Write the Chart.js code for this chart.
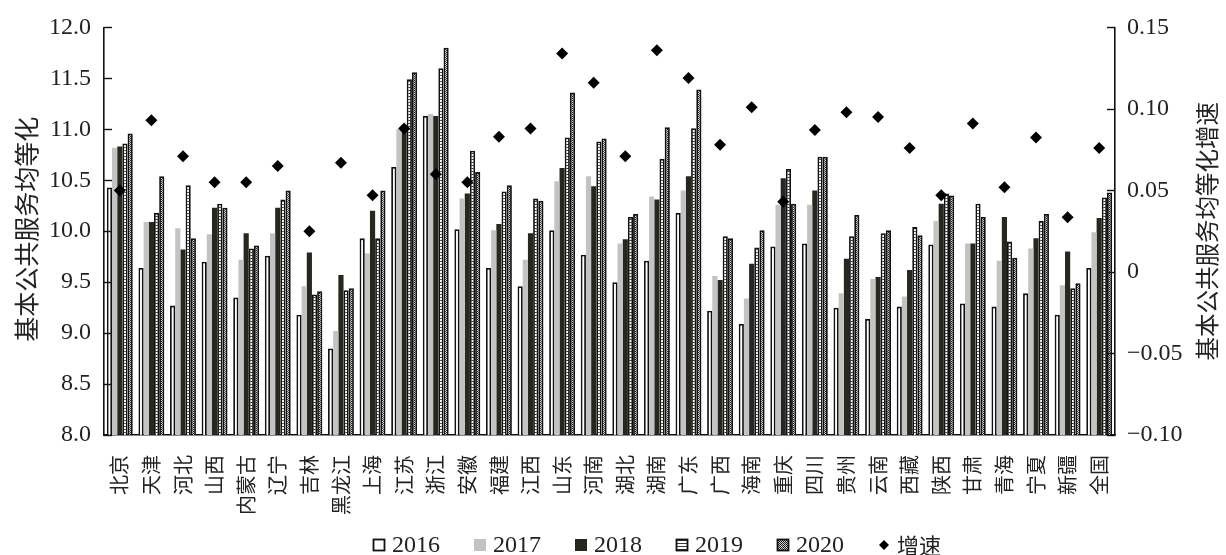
<!DOCTYPE html>
<html>
<head>
<meta charset="utf-8">
<script src="https://cdn.jsdelivr.net/npm/chart.js@4.4.1/dist/chart.umd.min.js"></script>
<style>
  html, body { margin: 0; padding: 0; background: #fff; }
  #wrap { width: 1226px; height: 555px; }
</style>
</head>
<body>
<div id="wrap"><canvas id="c"></canvas></div>
<script>
const categories = ['北京','天津','河北','山西','内蒙古','辽宁','吉林','黑龙江','上海','江苏','浙江','安徽','福建','江西','山东','河南','湖北','湖南','广东','广西','海南','重庆','四川','贵州','云南','西藏','陕西','甘肃','青海','宁夏','新疆','全国'];
const years = ['2016','2017','2018','2019','2020'];
const v2016 = [10.43,9.64,9.27,9.70,9.35,9.76,9.18,8.85,9.93,10.63,11.13,10.02,9.64,9.46,10.01,9.77,9.50,9.71,10.18,9.22,9.09,9.85,9.88,9.25,9.14,9.26,9.87,9.29,9.26,9.39,9.18,9.64];
const v2017 = [10.82,10.09,10.03,9.97,9.72,9.98,9.46,9.02,9.78,11.00,11.15,10.32,10.01,9.72,10.49,10.54,9.88,10.34,10.40,9.56,9.34,10.26,10.26,9.39,9.53,9.36,10.10,9.88,9.71,9.83,9.47,9.99];
const v2018 = [10.83,10.09,9.82,10.23,9.98,10.23,9.79,9.57,10.20,11.01,11.13,10.37,10.07,9.98,10.62,10.44,9.92,10.31,10.54,9.52,9.68,10.52,10.40,9.73,9.55,9.62,10.27,9.88,10.14,9.93,9.80,10.13];
const v2019 = [10.86,10.18,10.45,10.27,9.83,10.31,9.38,9.42,9.93,11.49,11.60,10.79,10.39,10.32,10.92,10.88,10.14,10.71,11.01,9.95,9.84,10.61,10.73,9.95,9.98,10.04,10.37,10.27,9.90,10.10,9.44,10.33];
const v2020 = [10.96,10.54,9.93,10.23,9.86,10.40,9.41,9.44,10.40,11.56,11.80,10.58,10.45,10.30,11.36,10.91,10.17,11.02,11.39,9.93,10.01,10.27,10.73,10.16,10.01,9.96,10.35,10.14,9.74,10.17,9.49,10.38];
const growth = [0.050,0.093,0.071,0.055,0.055,0.065,0.025,0.067,0.047,0.088,0.060,0.055,0.083,0.088,0.134,0.116,0.071,0.136,0.119,0.078,0.101,0.043,0.087,0.098,0.095,0.076,0.047,0.091,0.052,0.0825,0.0335,0.076];
const growthLabel = '增速';
const leftTitle = '基本公共服务均等化';
const rightTitle = '基本公共服务均等化增速';

const SERIF = "'Liberation Serif', 'Noto Sans CJK SC', serif";
const CJK = "'Noto Sans CJK SC', 'Liberation Serif', sans-serif";

function makePattern(w, h, paint) {
  const c = document.createElement('canvas');
  c.width = w; c.height = h;
  const g = c.getContext('2d');
  paint(g);
  return g.createPattern(c, 'repeat');
}
// 2019: horizontal hatching, 2020: fine checker
const hatch = makePattern(2, 3, g => {
  g.fillStyle = '#fff'; g.fillRect(0, 0, 2, 3);
  g.fillStyle = '#3a3a3a'; g.fillRect(0, 0, 2, 1);
});
const checker = makePattern(2, 2, g => {
  g.fillStyle = '#cfcfcf'; g.fillRect(0, 0, 2, 2);
  g.fillStyle = '#1e1e1e'; g.fillRect(0, 0, 1, 1); g.fillRect(1, 1, 1, 1);
});

const barStyles = [
  {bg: '#ffffff', border: '#111', bw: 1.8},
  {bg: '#c3c3c3', border: '#c3c3c3', bw: 0},
  {bg: '#27271f', border: '#27271f', bw: 0},
  {bg: hatch, border: '#111', bw: 1.8},
  {bg: checker, border: '#111', bw: 1.8}
];
const series = [v2016, v2017, v2018, v2019, v2020];

const datasets = series.map((vals, i) => ({
  type: 'bar',
  label: years[i],
  data: vals,
  yAxisID: 'y',
  base: 8,
  backgroundColor: barStyles[i].bg,
  borderColor: barStyles[i].border,
  borderWidth: barStyles[i].bw,
  borderSkipped: 'start',
  categoryPercentage: 0.82,
  barPercentage: 1.0,
  order: 1
}));
datasets.push({
  type: 'line',
  label: growthLabel,
  data: growth,
  yAxisID: 'y1',
  showLine: false,
  pointStyle: 'rectRot',
  pointRadius: 6,
  pointHoverRadius: 6,
  pointBackgroundColor: '#000',
  pointBorderWidth: 0,
  order: 0
});

// inward tick marks, axis titles and legend
const decor = {
  id: 'decor',
  afterDraw(chart) {
    const ctx = chart.ctx;
    const a = chart.chartArea;
    const y = chart.scales.y, y1 = chart.scales.y1;
    ctx.save();
    ctx.strokeStyle = '#111';
    ctx.lineWidth = 1.4;
    y.ticks.forEach(t => {
      const p = Math.round(y.getPixelForValue(t.value)) + 0.5;
      ctx.beginPath(); ctx.moveTo(a.left, p); ctx.lineTo(a.left + 8, p); ctx.stroke();
    });
    y1.ticks.forEach(t => {
      const p = Math.round(y1.getPixelForValue(t.value)) + 0.5;
      ctx.beginPath(); ctx.moveTo(a.right, p); ctx.lineTo(a.right - 8, p); ctx.stroke();
    });

    ctx.fillStyle = '#222';
    ctx.textAlign = 'center';
    ctx.textBaseline = 'middle';
    const midY = (a.top + a.bottom) / 2;
    ctx.font = '25px ' + CJK;
    ctx.save(); ctx.translate(26, midY - 2); ctx.rotate(-Math.PI / 2); ctx.fillText(leftTitle, 0, 0); ctx.restore();
    ctx.font = '23.5px ' + CJK;
    ctx.save(); ctx.translate(1207, midY); ctx.rotate(-Math.PI / 2); ctx.fillText(rightTitle, 0, 0); ctx.restore();

    // legend
    const ly = 545;
    let x = 373;
    ctx.textAlign = 'left';
    chart.data.datasets.forEach(ds => {
      const label = ds.label;
      if (ds.type === 'bar') {
        ctx.fillStyle = ds.backgroundColor;
        ctx.fillRect(x, ly - 6, 12, 12);
        if (ds.borderWidth) {
          ctx.strokeStyle = '#111'; ctx.lineWidth = 1.8;
          ctx.strokeRect(x + 0.5, ly - 5.5, 11, 11);
        }
      } else {
        ctx.fillStyle = '#000';
        ctx.beginPath();
        ctx.moveTo(x + 6, ly - 5); ctx.lineTo(x + 11, ly); ctx.lineTo(x + 6, ly + 5); ctx.lineTo(x + 1, ly);
        ctx.closePath(); ctx.fill();
      }
      ctx.fillStyle = '#222';
      ctx.font = (ds.type === 'bar' ? '24px ' + SERIF : '22px ' + CJK);
      ctx.fillText(label, x + 19, ly + 1);
      x += 19 + ctx.measureText(label).width + 34;
    });
    ctx.restore();
  }
};

new Chart(document.getElementById('c'), {
  data: { labels: categories, datasets },
  options: {
    responsive: true,
    maintainAspectRatio: false,
    animation: false,
    layout: { padding: { top: 25, bottom: 0, left: 0, right: 0 } },
    plugins: { legend: { display: false }, tooltip: { enabled: false } },
    scales: {
      x: {
        offset: true,
        grid: { display: false },
        border: { display: true, color: '#111', width: 1.6 },
        ticks: {
          autoSkip: false, minRotation: 90, maxRotation: 90, padding: 12,
          color: '#222', font: { family: CJK, size: 20 }
        },
        afterFit: s => { s.height = 120; }
      },
      y: {
        position: 'left',
        min: 8, max: 12,
        grid: { display: false, drawTicks: false },
        border: { display: true, color: '#111', width: 1.6 },
        ticks: {
          stepSize: 0.5, padding: 13, color: '#222',
          font: { family: SERIF, size: 24 },
          callback: v => Number(v).toFixed(1)
        },
        afterFit: s => { s.width = 104; }
      },
      y1: {
        position: 'right',
        min: -0.10, max: 0.15,
        grid: { display: false, drawTicks: false },
        border: { display: true, color: '#111', width: 1.6 },
        ticks: {
          stepSize: 0.05, padding: 12, color: '#222',
          font: { family: SERIF, size: 24 },
          callback: v => Math.abs(v) < 1e-9 ? '0' : (v < 0 ? '\u2212' + Math.abs(v).toFixed(2) : v.toFixed(2))
        },
        afterFit: s => { s.width = 111; }
      }
    }
  },
  plugins: [decor]
});
</script>
</body>
</html>
